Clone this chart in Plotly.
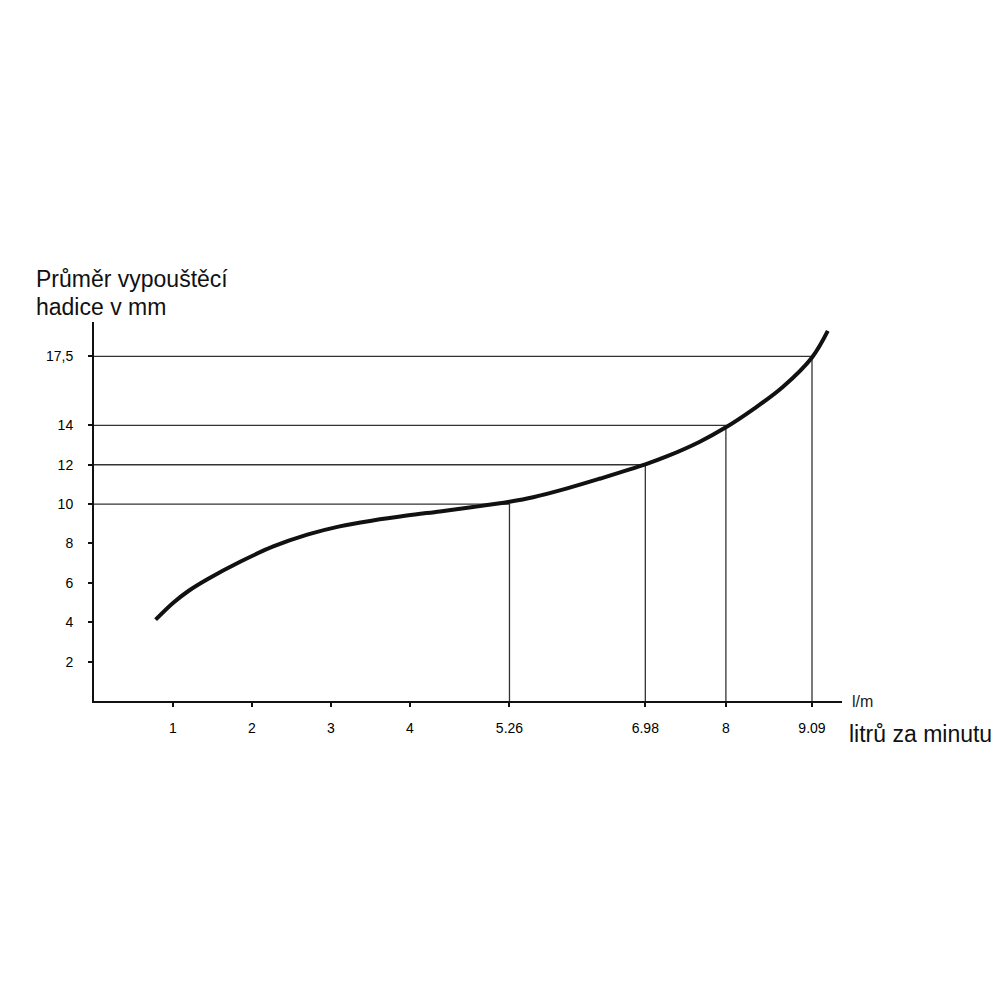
import plotly.graph_objects as go

# Curve: flow (l/min) vs hose diameter (mm)
flow = [0.78, 1.0, 1.2, 1.43, 1.85, 2.27, 2.70, 3.11, 3.53, 3.96, 4.38, 4.80, 5.26,
        5.56, 5.99, 6.41, 6.98, 7.25, 7.67, 8.0, 8.34, 8.72, 9.09, 9.29]
diameter = [4.13, 4.98, 5.6, 6.17, 7.07, 7.85, 8.45, 8.87, 9.17, 9.42, 9.63, 9.85, 10.12,
            10.35, 10.8, 11.3, 12.02, 12.42, 13.17, 13.9, 14.8, 15.95, 17.45, 18.8]

# Reading guides
guide_x = [5.26, 6.98, 8, 9.09]
guide_y = [10, 12, 14, 17.5]

x_tickvals = [1, 2, 3, 4, 5.26, 6.98, 8, 9.09]
x_ticktext = ["1", "2", "3", "4", "5.26", "6.98", "8", "9.09"]
y_tickvals = [2, 4, 6, 8, 10, 12, 14, 17.5]
y_ticktext = ["2", "4", "6", "8", "10", "12", "14", "17,5"]

# page body has an 8px margin; positions below are in screen pixels
OFF = 8
L, R, T, B = 94 - OFF, 842 - OFF, 322 - OFF, 701 - OFF
W = 1000


def px(x):
    return (x - OFF - L) / (R - L)


def py(y):
    return (B - (y - OFF)) / (B - T)


gx, gy = [], []
for xv, yv in zip(guide_x, guide_y):
    gx += [0, xv, xv, None]
    gy += [yv, yv, 0, None]

fig = go.Figure()
fig.add_trace(go.Scatter(x=gx, y=gy, mode="lines",
                         line=dict(color="#333333", width=1.3),
                         hoverinfo="skip", showlegend=False))
fig.add_trace(go.Scatter(x=flow, y=diameter, mode="lines",
                         line=dict(color="#111111", width=4, shape="spline", smoothing=1.0),
                         showlegend=False))

FONT = "Liberation Sans, Arial, sans-serif"
tickfont = dict(family=FONT, size=14, color="#000000")

fig.update_layout(
    width=W, height=1000,
    margin=dict(l=L, r=W - R, t=T, b=1000 - B),
    plot_bgcolor="white", paper_bgcolor="white",
    xaxis=dict(range=[0, 9.47], showgrid=False, zeroline=False,
               showline=True, linecolor="#111111", linewidth=2,
               ticks="outside", ticklen=4, tickwidth=1.5, tickcolor="#111111",
               tickvals=x_tickvals, ticktext=x_ticktext, tickfont=tickfont,
               ticklabelstandoff=9),
    yaxis=dict(range=[0, 19.25], showgrid=False, zeroline=False,
               showline=True, linecolor="#111111", linewidth=2,
               ticks="outside", ticklen=4, tickwidth=1.5, tickcolor="#111111",
               tickvals=y_tickvals, ticktext=y_ticktext, tickfont=tickfont,
               ticklabelstandoff=12),
    annotations=[
        dict(text="Průměr vypouštěcí", xref="paper", yref="paper",
             x=px(34), y=py(279), xanchor="left", yanchor="middle", showarrow=False,
             font=dict(family=FONT, size=23, color="#111111")),
        dict(text="hadice v mm", xref="paper", yref="paper",
             x=px(34), y=py(307), xanchor="left", yanchor="middle", showarrow=False,
             font=dict(family=FONT, size=23, color="#111111")),
        dict(text="l/m", xref="paper", yref="paper",
             x=px(850), y=py(701), xanchor="left", yanchor="middle", showarrow=False,
             font=dict(family=FONT, size=16, color="#222222")),
        dict(text="litrů za minutu", xref="paper", yref="paper",
             x=px(847), y=py(734), xanchor="left", yanchor="middle", showarrow=False,
             font=dict(family=FONT, size=23, color="#111111")),
    ],
)

fig.write_html("out.html")
